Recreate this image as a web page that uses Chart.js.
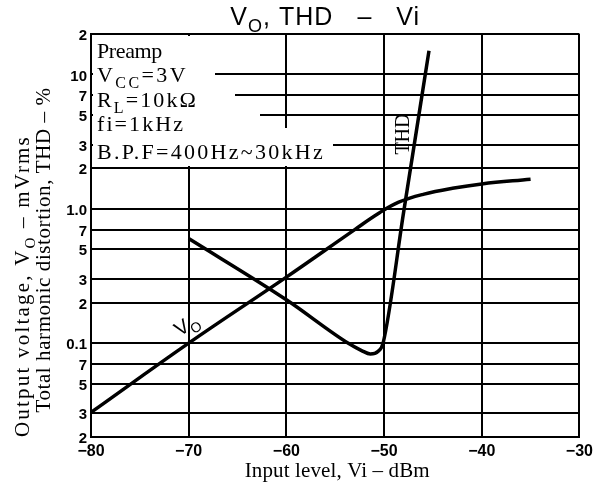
<!DOCTYPE html>
<html>
<head>
<meta charset="utf-8">
<script src="https://cdn.jsdelivr.net/npm/chart.js@4/dist/chart.umd.min.js"></script>
<style>
html,body{margin:0;padding:0;background:#fff;}
</style>
</head>
<body>
<canvas id="chart" width="598" height="484"></canvas>
<script>
// Vo, THD - Vi  (preamp)
const viVo = [-80, -70, -60, -53, -50.5, -48.5, -46, -43, -40, -35];
const vo   = [0.0305, 0.1, 0.31, 0.7, 0.93, 1.12, 1.28, 1.42, 1.53, 1.66];

const viThd = [-70, -60, -53.7, -52.3, -51.4, -50.6, -50.1, -48, -45.4];
const thd   = [0.6, 0.21, 0.1, 0.088, 0.083, 0.087, 0.1, 0.94, 15];

const xTicks = [-80, -70, -60, -50, -40, -30];
const yTicks = [20, 10, 7, 5, 3, 2, 1, 0.7, 0.5, 0.3, 0.2, 0.1, 0.07, 0.05, 0.03, 0.02];
const yTickLabels = ['2','10','7','5','3','2','1.0','7','5','3','2','0.1','7','5','3','2'];

// text parts: [text, isSubscript]
const titleParts = [['V'], ['O', 1], [', THD   \u2013   Vi']];
const yTitle1 = [['Output voltage, V'], ['O', 1], [' \u2013 mVrms']];
const yTitle2 = [['Total harmonic distortion, THD \u2013 %']];
const xTitle = [['Input level, Vi \u2013 dBm']];
const conditions = [
	[['Preamp']],
	[['V'], ['CC', 1], ['=3V']],
	[['R'], ['L', 1], ['=10k\u03a9']],
	[['fi=1kHz']],
	[['B.P.F=400Hz~30kHz']]
];
const condWidths = [65, 91, 101, 88, 228];

const SERIF = '"Liberation Serif", "Times New Roman", serif';
const SANS = '"Liberation Sans", Arial, sans-serif';

function drawRich(ctx, parts, x, y, size, family, weight, targetW, align) {
	const hasLS = 'letterSpacing' in ctx;
	const subSize = Math.round(size * 0.72);
	const fontOf = p => (weight || '') + ' ' + (p[1] ? subSize : size) + 'px ' + family;
	if (hasLS) ctx.letterSpacing = '0px';
	let natural = 0, chars = 0;
	parts.forEach(p => {
		ctx.font = fontOf(p);
		natural += ctx.measureText(p[0]).width;
		chars += p[0].length;
	});
	let sp = (targetW && hasLS) ? (targetW - natural) / chars : 0;
	let total = natural + sp * chars;
	let cx = align === 'center' ? x - total / 2 : x;
	ctx.textAlign = 'left';
	ctx.textBaseline = 'alphabetic';
	parts.forEach(p => {
		ctx.font = fontOf(p);
		const w = ctx.measureText(p[0]).width;
		if (hasLS) ctx.letterSpacing = sp + 'px';
		ctx.fillText(p[0], cx, y + (p[1] ? size * 0.28 : 0));
		if (hasLS) ctx.letterSpacing = '0px';
		cx += w + sp * p[0].length;
	});
}

const decor = {
	id: 'decor',
	beforeDatasetsDraw(chart) {
		// white box behind the conditions text, hiding the grid
		const ctx = chart.ctx, ca = chart.chartArea;
		const covers = [
			[2, 109, 2, 132],
			[2, 124, 30, 52],
			[2, 144, 52, 70],
			[2, 169, 72, 90],
			[2, 242, 94, 132]
		];
		ctx.save();
		ctx.fillStyle = '#fff';
		covers.forEach(c => ctx.fillRect(ca.left + c[0], ca.top + c[2], c[1] - c[0], c[3] - c[2]));
		ctx.restore();
	},
	afterDraw(chart) {
		const ctx = chart.ctx, ca = chart.chartArea;
		ctx.save();
		ctx.fillStyle = '#000';

		// title
		drawRich(ctx, titleParts, (ca.left + ca.right) / 2 - 10, 25, 25, SANS, '', 190, 'center');

		// conditions
		const base = [24, 48, 73, 97, 125];
		conditions.forEach((c, i) => drawRich(ctx, c, ca.left + 6, ca.top + base[i], 22, SERIF, '', condWidths[i], 'left'));

		// axis titles
		drawRich(ctx, xTitle, (ca.left + ca.right) / 2 + 2, 477, 21, SERIF, '', 185, 'center');
		ctx.save();
		ctx.translate(29, 286);
		ctx.rotate(-Math.PI / 2);
		drawRich(ctx, yTitle1, 0, 0, 21, SERIF, '', 302, 'center');
		ctx.restore();
		ctx.save();
		ctx.translate(50, 250);
		ctx.rotate(-Math.PI / 2);
		drawRich(ctx, yTitle2, 0, 0, 21, SERIF, '', 325, 'center');
		ctx.restore();

		// curve labels
		const xs = chart.scales.x, ys = chart.scales.y;
		ctx.save();
		ctx.translate(xs.getPixelForValue(-70.2), ys.getPixelForValue(0.1) - 18);
		ctx.rotate(-33 * Math.PI / 180);
		drawRich(ctx, [['V'], ['O', 1]], 0, 6, 20, SANS, '', 0, 'center');
		ctx.restore();

		ctx.save();
		ctx.translate(xs.getPixelForValue(-48.2), ys.getPixelForValue(3.6));
		ctx.rotate(-Math.PI / 2);
		drawRich(ctx, [['THD']], 0, 7, 20, SERIF, '', 0, 'center');
		ctx.restore();

		ctx.restore();
	}
};

const lineStyle = {
	borderColor: '#000',
	borderWidth: 3.5,
	pointRadius: 0,
	fill: false
};

new Chart(document.getElementById('chart').getContext('2d'), {
	type: 'line',
	data: {
		datasets: [
			Object.assign({ label: 'Vo', data: viVo.map((v, i) => ({ x: v, y: vo[i] })), tension: 0.4 }, lineStyle),
			Object.assign({ label: 'THD', data: viThd.map((v, i) => ({ x: v, y: thd[i] })), cubicInterpolationMode: 'monotone' }, lineStyle)
		]
	},
	options: {
		responsive: false,
		animation: false,
		layout: { padding: { top: 34, right: 14, left: 0, bottom: 0 } },
		plugins: { legend: { display: false }, tooltip: { enabled: false } },
		scales: {
			x: {
				type: 'linear',
				min: -80,
				max: -30,
				afterBuildTicks: s => { s.ticks = xTicks.map(v => ({ value: v })); },
				afterFit: s => { s.height = 47; },
				ticks: {
					color: '#000',
					font: { family: SANS, size: 16, weight: 'bold' },
					padding: 5,
					maxRotation: 0,
					callback: v => (v < 0 ? '\u2212' : '') + Math.abs(v)
				},
				grid: { color: '#000', lineWidth: 2, drawTicks: false },
				border: { color: '#000', width: 2 }
			},
			y: {
				type: 'logarithmic',
				min: 0.02,
				max: 20,
				afterBuildTicks: s => { s.ticks = yTicks.map(v => ({ value: v })); },
				afterFit: s => { s.width = 91; },
				ticks: {
					color: '#000',
					font: { family: SANS, size: 15, weight: 'bold' },
					padding: 4,
					labelOffset: 2,
					autoSkip: false,
					callback: (v, i) => yTickLabels[i]
				},
				grid: { color: '#000', lineWidth: 2, drawTicks: false },
				border: { color: '#000', width: 2 }
			}
		}
	},
	plugins: [decor]
});
</script>
</body>
</html>
